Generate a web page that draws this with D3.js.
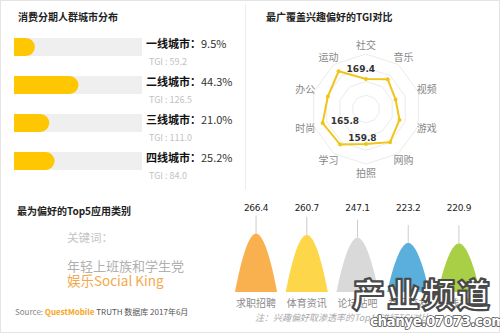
<!DOCTYPE html>
<html>
<head>
<meta charset="utf-8">
<script src="https://cdn.jsdelivr.net/npm/d3@7"></script>
<style>
  html, body { margin: 0; padding: 0; background: #fff; }
  svg { display: block; font-family: "Noto Sans CJK SC", "Microsoft YaHei", sans-serif; }
</style>
</head>
<body>
<svg id="chart" width="500" height="333"></svg>
<script>
// City-tier distribution of consumer-credit users
const cityNames = ["一线城市", "二线城市", "三线城市", "四线城市"];
const cityShare = [9.5, 44.3, 21.0, 25.2];
const cityTGI = ["59.2", "126.5", "111.0", "84.0"];

// Interest TGI radar
const radarAxes = ["社交", "音乐", "视频", "游戏", "网购", "拍照", "学习", "时尚", "办公", "运动"];
const radarTGI = [109, 134, 113, 128, 149, 127, 159.8, 165.8, 146, 169.4];
const radarLabeled = ["学习", "时尚", "运动"];

// Top 5 app categories
const appCats = ["求职招聘", "体育资讯", "论坛贴吧", "社区交友", "在线视频"];
const appTGI = [266.4, 260.7, 247.1, 223.2, 220.9];
const appColors = ["#f9b14f", "#fdd64a", "#d9d9d9", "#5aafdc", "#a8cf45"];

const svg = d3.select("#chart");

// frame and divider
svg.append("rect").attr("x", 0.5).attr("y", 0.5).attr("width", 499).attr("height", 332)
  .attr("fill", "none").attr("stroke", "#e4e4e4");
svg.append("line").attr("x1", 245.5).attr("x2", 245.5).attr("y1", 4).attr("y2", 190)
  .attr("stroke", "#ececec");

function title(x, y, t) {
  svg.append("text").attr("x", x).attr("y", y).text(t)
    .attr("font-size", 10).attr("font-weight", "bold").attr("fill", "#222");
}
title(18, 21, "消费分期人群城市分布");
title(266, 21, "最广覆盖兴趣偏好的TGI对比");
title(17, 215, "最为偏好的Top5应用类别");

// ---------- Bars ----------
const yBar = d3.scaleBand().domain(d3.range(cityNames.length)).range([38, 170])
  .paddingInner(0.526).paddingOuter(0);
const xBar = d3.scaleLinear().domain([0, 95]).range([9, 128]);
const barX0 = 14, trackW = 128;

const bars = svg.append("g");
cityNames.forEach((name, i) => {
  const y0 = yBar(i), h = yBar.bandwidth(), r = h / 2;
  const w = xBar(cityShare[i]);
  bars.append("rect").attr("x", barX0).attr("y", y0).attr("width", trackW).attr("height", h)
    .attr("fill", "#efefef");
  const p = d3.path();
  p.moveTo(barX0, y0);
  p.lineTo(barX0 + w - r, y0);
  p.arc(barX0 + w - r, y0 + r, r, -Math.PI / 2, Math.PI / 2);
  p.lineTo(barX0, y0 + h);
  p.closePath();
  bars.append("path").attr("d", p.toString()).attr("fill", "#fec701");

  const t = bars.append("text").attr("x", 146).attr("y", y0 + 10)
    .attr("font-size", 11).attr("fill", "#111");
  t.append("tspan").attr("font-weight", "bold").text(name + "：");
  t.append("tspan").attr("fill", "#333").text(cityShare[i].toFixed(1) + "%");
  bars.append("text").attr("x", 149).attr("y", y0 + 27)
    .attr("font-size", 9).attr("fill", "#c2c2c2").text("TGI : " + cityTGI[i]);
});

// ---------- Radar ----------
const cx = 366, cy = 109, R = 55;
const rScale = d3.scaleLinear().domain([0, 200]).range([0, R]);
const n = radarAxes.length;
const ang = i => i * 2 * Math.PI / n;
const pt = (i, r) => [cx + r * Math.sin(ang(i)), cy - r * Math.cos(ang(i))];

const radar = svg.append("g");
[0.25, 0.5, 0.75, 1].forEach(f => {
  radar.append("path")
    .attr("d", d3.line()(d3.range(n).map(i => pt(i, R * f))) + "Z")
    .attr("fill", "none").attr("stroke", "#ebebeb").attr("stroke-width", 1);
});
const pts = radarTGI.map((v, i) => pt(i, rScale(v)));
radar.append("path").attr("d", d3.line()(pts) + "Z")
  .attr("fill", "none").attr("stroke", "#f0c419").attr("stroke-width", 2);
radar.selectAll("circle.dot").data(pts).join("circle")
  .attr("cx", d => d[0]).attr("cy", d => d[1]).attr("r", 2).attr("fill", "#f0c419");
radarAxes.forEach((a, i) => {
  const [lx, ly] = pt(i, 64);
  radar.append("text").attr("x", lx).attr("y", ly + 3.5).attr("text-anchor", "middle")
    .attr("font-size", 10).attr("fill", "#888").text(a);
  if (radarLabeled.includes(a)) {
    const [px, py] = pts[i];
    const dy = a === "学习" ? -4 : 1;
    radar.append("text").attr("x", px + 8).attr("y", py + dy)
      .attr("font-size", 9).attr("font-weight", "bold").attr("fill", "#333")
      .attr("font-family", "Verdana, DejaVu Sans, sans-serif")
      .text(radarTGI[i].toFixed(1));
  }
});

// ---------- Keywords ----------
svg.append("text").attr("x", 67).attr("y", 242).attr("font-size", 11.5).attr("fill", "#c4c4c4").text("关键词：");
svg.append("text").attr("x", 67).attr("y", 271).attr("font-size", 13).attr("fill", "#b0b0b0").text("年轻上班族和学生党");
svg.append("text").attr("x", 67).attr("y", 286).attr("font-size", 13.5).attr("fill", "#f3a94a").text("娱乐Social King");

// ---------- Bells ----------
const xApp = d3.scaleBand().domain(appCats).range([235, 480]).paddingInner(0.17);
const yApp = d3.scaleLinear().domain([0, 300]).range([292, 226]);
const bell = svg.append("g");
appCats.forEach((c, i) => {
  const x0 = xApp(c), w = xApp.bandwidth();
  const top = yApp(appTGI[i]), base = yApp(0), h = base - top;
  // dome profile: near-parabolic top with slightly flared foot
  const shape = d3.range(0, 1.0001, 0.025).map(t => {
    const z = Math.abs(t - 0.5) * 2;
    const f = 1 - Math.pow(z, 1.9);
    return [x0 + t * w, base - h * f];
  });
  bell.append("path").attr("d", d3.line().curve(d3.curveBasis)(shape) + "Z").attr("fill", appColors[i]);
  const mx = x0 + w / 2;
  bell.append("line").attr("x1", mx).attr("x2", mx).attr("y1", top - 18).attr("y2", top)
    .attr("stroke", "#ccc").attr("stroke-width", 1);
  bell.append("text").attr("x", mx).attr("y", 211).attr("text-anchor", "middle")
    .attr("font-size", 9).attr("fill", "#222").attr("font-family", "Verdana, DejaVu Sans, sans-serif")
    .attr("letter-spacing", -0.3).text(appTGI[i].toFixed(1));
  bell.append("text").attr("x", mx).attr("y", 307).attr("text-anchor", "middle")
    .attr("font-size", 10).attr("fill", "#8a8a8a").text(c);
});
svg.append("text").attr("x", 255).attr("y", 321).attr("font-size", 9).attr("font-style", "italic")
  .attr("fill", "#aaa").text("注：兴趣偏好取渗透率的Top10进行TGI对比");

// ---------- Source ----------
const src = svg.append("text").attr("x", 15).attr("y", 315).attr("font-size", 8);
src.append("tspan").attr("fill", "#888").text("Source:  ");
src.append("tspan").attr("fill", "#f5a623").attr("font-weight", "bold").text("QuestMobile ");
src.append("tspan").attr("fill", "#555").text("TRUTH 数据库 2017年6月");

// ---------- Site mark ----------
const wm = svg.append("g").attr("fill", "#fff").attr("stroke", "#4a4a4a").attr("stroke-linejoin", "round");
wm.append("text").attr("x", 352).attr("y", 307).attr("font-size", 33).attr("font-weight", 900)
  .attr("letter-spacing", 2).attr("stroke-width", 2.2).text("产业频道");
wm.append("text").attr("x", 370).attr("y", 326).attr("font-size", 13.5).attr("font-weight", "bold")
  .attr("font-family", "Verdana, DejaVu Sans, sans-serif").attr("letter-spacing", -0.5)
  .attr("stroke-width", 1.6).attr("paint-order", "stroke").text("chanye.07073.com");
</script>
</body>
</html>
